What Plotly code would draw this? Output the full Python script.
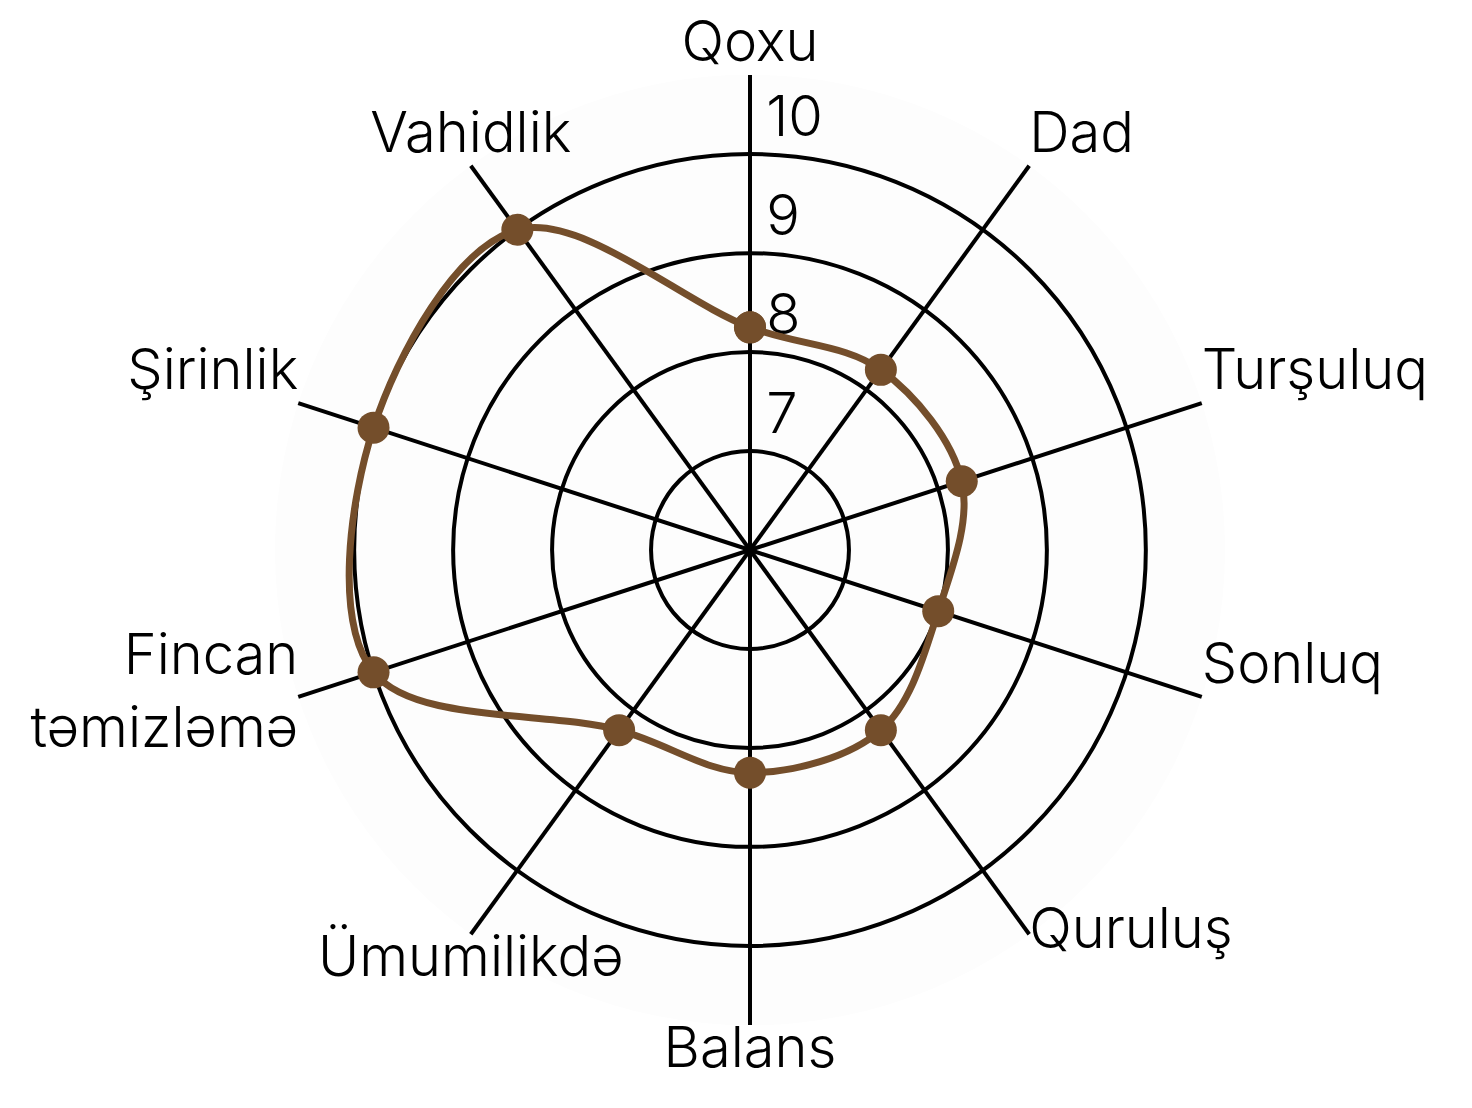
import plotly.graph_objects as go

categories = ["Qoxu", "Dad", "Turşuluq", "Sonluq", "Quruluş", "Balans",
              "Ümumilikdə", "Fincan<br>təmizləmə", "Şirinlik", "Vahidlik"]
scores = [8.25, 8.25, 8.25, 8.0, 8.25, 8.25, 8.25, 10.0, 10.0, 10.0]
radial_ticks = [7, 8, 9, 10]
radial_range = [6, 10.8]

# where each category name sits around the outer end of its spoke
label_positions = ["top center", "top right", "top right", "top right", "middle right",
                   "bottom center", "bottom center", "middle left", "top left", "top center"]

brown = "#744e2b"
FONT = "Inter"

fig = go.Figure()
fig.add_trace(go.Scatterpolar(
    r=scores + scores[:1],
    theta=categories + categories[:1],
    mode="lines+markers",
    line=dict(color=brown, width=7, shape="spline", smoothing=1),
    marker=dict(color=brown, size=32),
    showlegend=False,
    hoverinfo="skip",
))
# category names, placed through the polar scale at the outer edge
fig.add_trace(go.Scatterpolar(
    r=[radial_range[1]] * len(categories),
    theta=categories,
    mode="text",
    text=categories,
    textposition=label_positions,
    textfont=dict(family=FONT, size=56, color="black", weight=300),
    cliponaxis=False,
    showlegend=False,
    hoverinfo="skip",
))

fig.update_layout(
    width=1472, height=1108,
    margin=dict(l=267, r=255, t=67, b=91),
    paper_bgcolor="white",
    font=dict(family=FONT, color="black", size=56, weight=300),
    polar=dict(
        bgcolor="#fdfdfd",
        angularaxis=dict(
            direction="clockwise", rotation=90,
            showline=False, ticks="", showticklabels=False,
            gridcolor="black", gridwidth=4,
            layer="below traces",
        ),
        radialaxis=dict(
            range=radial_range, tickvals=radial_ticks,
            ticktext=[f"\u00a0{v}<br> " for v in radial_ticks],
            angle=90, tickangle=90,
            showline=False, ticks="",
            gridcolor="black", gridwidth=4,
            layer="below traces",
            tickfont=dict(size=56, family=FONT, color="black", weight=300),
        ),
    ),
)

fig.write_html("out.html")
